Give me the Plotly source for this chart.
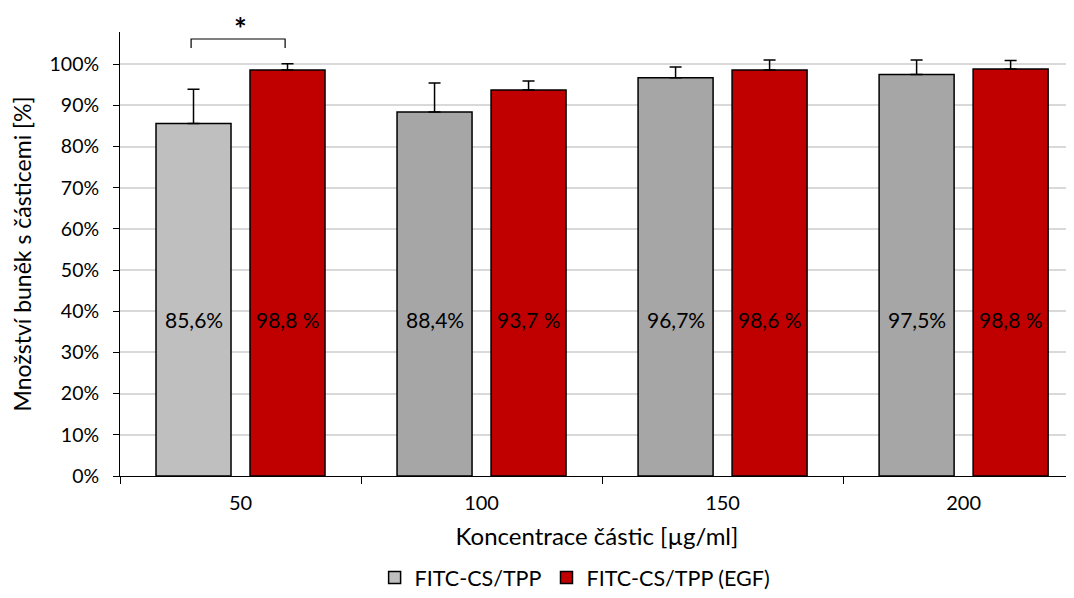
import plotly.graph_objects as go

categories = ["50", "100", "150", "200"]
series_names = ["FITC-CS/TPP", "FITC-CS/TPP (EGF)"]
values_plain = [0.856, 0.884, 0.967, 0.975]
values_egf = [0.986, 0.937, 0.986, 0.988]
err_plain = [0.083, 0.070, 0.026, 0.035]
err_egf = [0.015, 0.022, 0.024, 0.021]
labels_plain = ["85,6%", "88,4%", "96,7%", "97,5%"]
labels_egf = ["98,8 %", "93,7 %", "98,6 %", "98,8 %"]
y_ticks = [i / 10 for i in range(11)]
y_ticktext = [f"{i * 10}%" for i in range(11)]

FONT = "Lato, 'Open Sans', sans-serif"
plain_colors = ["#BFBFBF", "#A6A6A6", "#A6A6A6", "#A6A6A6"]
RED = "#C00000"

fig = go.Figure()
fig.add_trace(go.Bar(
    x=categories, y=values_plain, name=series_names[0],
    marker=dict(color=plain_colors, line=dict(color="black", width=1.5)),
    error_y=dict(type="data", array=err_plain, symmetric=False, arrayminus=[0]*4,
                 color="black", thickness=1.5, width=6),
))
fig.add_trace(go.Bar(
    x=categories, y=values_egf, name=series_names[1],
    marker=dict(color=RED, line=dict(color="black", width=1.5)),
    error_y=dict(type="data", array=err_egf, symmetric=False, arrayminus=[0]*4,
                 color="black", thickness=1.5, width=6),
))

off = 0.195
for i, (lp, le) in enumerate(zip(labels_plain, labels_egf)):
    fig.add_annotation(x=i - off, y=0.38, xref="x", yref="y", text=lp,
                       showarrow=False, font=dict(size=21, color="black", family=FONT))
    fig.add_annotation(x=i + off, y=0.38, xref="x", yref="y", text=le,
                       showarrow=False, font=dict(size=21, color="black", family=FONT))

# significance bracket
fig.add_shape(type="path", xref="x", yref="y",
              path=f"M {-off-0.01},1.039 L {-off-0.01},1.061 L {off-0.01},1.061 L {off-0.01},1.039",
              line=dict(color="black", width=1.2))
fig.add_annotation(x=0, y=1.008, xref="x", yref="paper", yanchor="middle", text="<b>*</b>",
                   showarrow=False, font=dict(size=30, color="black", family=FONT))

fig.update_layout(
    width=1066, height=590,
    margin=dict(l=112, r=0, t=24, b=122),
    paper_bgcolor="white", plot_bgcolor="white",
    barmode="group", bargap=0.22, bargroupgap=0.202,
    font=dict(family=FONT, size=20, color="black"),
    showlegend=True,
    legend=dict(orientation="h", x=0.532, xref="container", xanchor="center",
                y=0.0, yref="container", yanchor="bottom",
                font=dict(size=21.5, family=FONT), traceorder="normal"),
    xaxis=dict(
        range=[-0.5, 3.458], showline=True, linecolor="black", linewidth=1,
        ticks="outside", tickson="boundaries", ticklen=7, tickcolor="black",
        ticklabelstandoff=9,
        showgrid=False, title=dict(text="Koncentrace částic [µg/ml]", font=dict(size=24), standoff=15),
        tickfont=dict(size=20),
    ),
    yaxis=dict(
        range=[0, 1.078], tickvals=y_ticks, ticktext=y_ticktext,
        showline=True, linecolor="black", linewidth=1,
        ticks="outside", ticklen=6, tickcolor="black", ticklabelstandoff=10,
        showgrid=True, gridcolor="#D9D9D9", gridwidth=1.5, zeroline=False,
        title=dict(text="Množství buněk s částicemi [%]", font=dict(size=23), standoff=14),
        tickfont=dict(size=19.5),
    ),
)

fig.write_html("out.html")
